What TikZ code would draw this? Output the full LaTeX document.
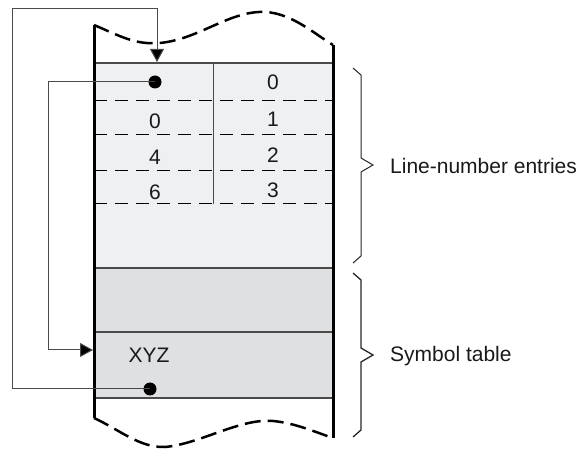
\documentclass[tikz,border=0pt]{standalone}
\usepackage{fontspec}
\setmainfont{Liberation Sans}
\usetikzlibrary{arrows.meta}
\definecolor{lightfill}{HTML}{EFF0F2}
\definecolor{darkfill}{HTML}{DFE0E2}
\definecolor{linegray}{HTML}{4A4A4A}
\tikzset{
  wall/.style={line width=3pt, black},
  wave/.style={line width=2.5pt, black, dash pattern=on 16pt off 7pt},
  rowsep/.style={line width=1.6pt, linegray},
  dashsep/.style={line width=1pt, black, dash pattern=on 13pt off 8pt},
  thinline/.style={line width=1pt, linegray},
  ptr/.style={thinline, -{Triangle[length=13pt,width=14pt,fill=black]}},
  dotnode/.style={circle, fill=black, inner sep=0pt, minimum size=13pt},
  txt/.style={font=\fontsize{21}{25}\selectfont, inner sep=0pt, text=black!90},
  brace/.style={line width=1pt, black!85, line join=miter}
}
\begin{document}
\begin{tikzpicture}[x=1pt,y=-1pt]
\useasboundingbox (0,0) rectangle (579,449);
% fills
\fill[lightfill] (94,63) rectangle (333,268);
\fill[darkfill] (94,268) rectangle (333,398);
% row lines
\draw[rowsep] (94,63) -- (333,63);
\draw[rowsep] (94,268) -- (333,268);
\draw[rowsep] (94,332) -- (333,332);
\draw[rowsep] (94,398) -- (333,398);
\foreach \yy in {101,135,171,204} \draw[dashsep] (94,\yy) -- (333,\yy);
\draw[thinline] (213,63) -- (213,204);
% walls
\draw[wall] (94,25) -- (94,418);
\draw[wall] (333,45) -- (333,438);
% waves
\draw[wave] (94,25) .. controls (120,36) and (135,45) .. (160,43)
  .. controls (200,39) and (230,10) .. (266,12)
  .. controls (292,14) and (312,32) .. (333,45);
\draw[wave] (94,418) .. controls (120,430) and (140,448) .. (165,447)
  .. controls (200,444) and (240,418) .. (273,421)
  .. controls (295,423) and (315,432) .. (333,438);
% texts
\node[txt] (r0) at (273,82) {0};
\node[txt] (r1) at (273,119) {1};
\node[txt] (r2) at (273,155) {2};
\node[txt] (r3) at (273,190) {3};
\node[txt] (l1) at (155,121) {0};
\node[txt] (l2) at (155,157) {4};
\node[txt] (l3) at (155,192) {6};
\node[txt] (xyz) at (149,355) {XYZ};
% pointers
\node[dotnode] (dot1) at (155,82) {};
\node[dotnode] (dot2) at (150,389) {};
\coordinate (xyzentry) at (93,350);
\coordinate (headentry) at (157,62);
\draw[ptr] (dot1.center) -- (48,82) -- (48,350) -- (xyzentry);
\draw[ptr] (dot2.center) -- (12,389) -- (12,9) -- (157,9) -- (headentry);
% braces
\draw[brace] (353,68) -- (361,75) -- (361,158) -- (373,165) -- (361,172) -- (361,256) -- (353,263);
\draw[brace, line width=1.3pt] (353,273) -- (361,280) -- (361,348) -- (373,355) -- (361,362) -- (361,430) -- (353,437);
\node[txt, anchor=west] (lbl1) at (390,166) {Line-number entries};
\node[txt, anchor=west] (lbl2) at (390,356) {Symbol table};
\end{tikzpicture}
\end{document}
